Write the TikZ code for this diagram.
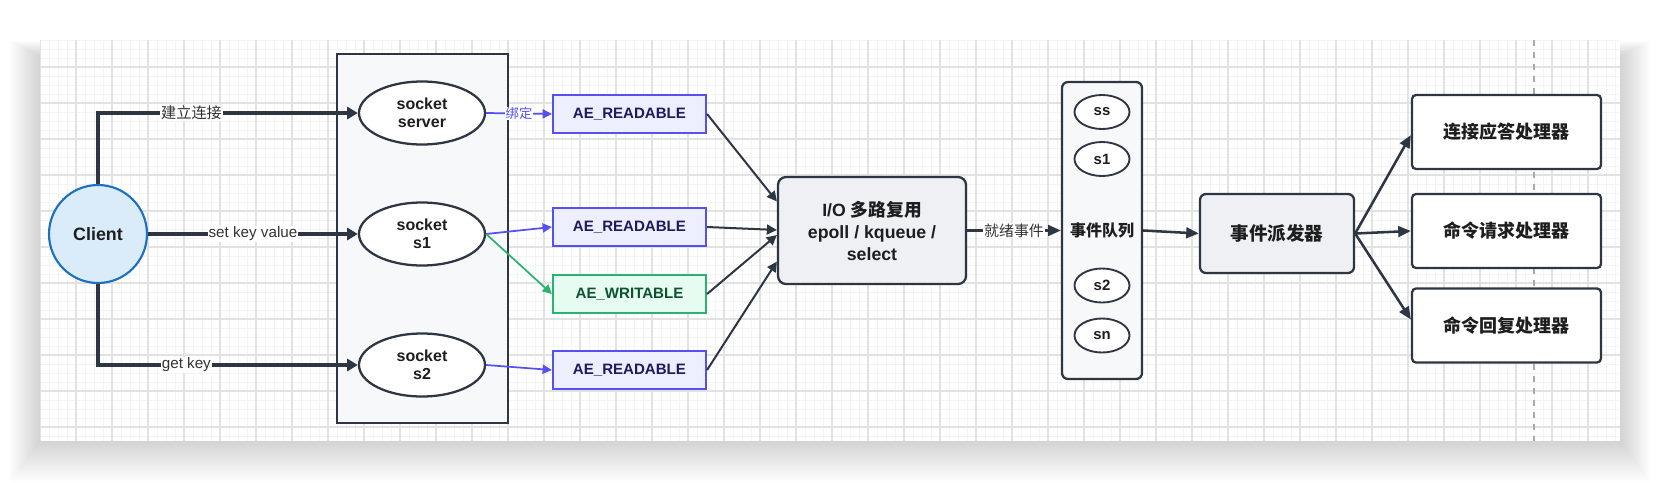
\documentclass[tikz,border=0pt]{standalone}
\usepackage{fontspec}
\setmainfont{Liberation Sans}
\newfontfamily\cjk{Noto Sans CJK SC}
\usetikzlibrary{arrows.meta,shapes.geometric}
\newcommand{\pxu}{*0.75pt}
\definecolor{dark}{HTML}{2E3643}
\definecolor{txt}{HTML}{1E1E1E}
\definecolor{lbltxt}{HTML}{333333}
\definecolor{bluel}{HTML}{5650EE}
\definecolor{aefill}{HTML}{EDEEFE}
\definecolor{aetxt}{HTML}{1E1B5C}
\definecolor{greenl}{HTML}{28B46E}
\definecolor{grfill}{HTML}{E6FCF1}
\definecolor{grtxt}{HTML}{0E5230}
\definecolor{clfill}{HTML}{DAEBFA}
\definecolor{clline}{HTML}{1F70C0}
\definecolor{contfill}{HTML}{F7F8FA}
\definecolor{boxfill}{HTML}{EEF0F4}
\definecolor{majg}{HTML}{E2E2E2}
\definecolor{ming}{HTML}{F4F4F4}
\definecolor{dashg}{HTML}{AAAAAA}
\begin{document}
\begin{tikzpicture}[x=0.75pt,y=-0.75pt,
  minorgrid/.style={ming,line width=0.75pt},
  majorgrid/.style={majg,line width=0.9pt},
  dashline/.style={dashg,line width=1.3pt,dash pattern=on 4.5pt off 4.5pt},
  sock/.style={ellipse,draw=dark,line width=1.7pt,fill=white,minimum width=126\pxu,minimum height=63\pxu,inner sep=0pt,align=center,font=\fontsize{12}{13.7}\selectfont\bfseries,text=txt},
  qell/.style={ellipse,draw=dark,line width=1.4pt,fill=white,minimum width=55\pxu,minimum height=34\pxu,inner sep=0pt,font=\fontsize{11.2}{13}\selectfont\bfseries,text=txt},
  aebox/.style={rectangle,draw=bluel,line width=1.6pt,fill=aefill,minimum width=153\pxu,minimum height=38\pxu,inner sep=0pt,font=\fontsize{11.3}{13}\selectfont\bfseries,text=aetxt},
  grbox/.style={aebox,draw=greenl,fill=grfill,text=grtxt},
  bigbox/.style={rectangle,rounded corners=6\pxu,draw=dark,line width=1.7pt,fill=boxfill,inner sep=0pt,align=center,text=txt},
  hbox/.style={rectangle,rounded corners=4\pxu,draw=dark,line width=1.7pt,fill=white,minimum width=189\pxu,minimum height=74\pxu,inner sep=0pt,font=\fontsize{13.5}{16}\selectfont\bfseries\cjk,text=txt},
  conn/.style={dark,line width=2.3pt,-{Triangle[length=8pt,width=9pt]}},
  darr/.style={dark,line width=1.9pt,-{Triangle[length=9.5pt,width=8pt]}},
  tarr/.style={dark,line width=1.5pt,-{Triangle[length=7.5pt,width=7.5pt]}},
  barr/.style={bluel,line width=1.3pt,-{Triangle[length=7pt,width=6.8pt]}},
  garr/.style={greenl,line width=1.3pt,-{Triangle[length=7pt,width=6.8pt]}},
  lbl/.style={fill=white,inner sep=0.6pt,text=lbltxt,font=\fontsize{11.4}{13}\selectfont}
]
\useasboundingbox (0,0) rectangle (1660,482);
\fill[white] (0,0) rectangle (1660,482);
% soft shadow of the card
\foreach \i in {1,...,44}
  \fill[black,opacity=0.0033] (40-0.7*\i,56-0.35*\i) rectangle (1620+0.7*\i,441+0.95*\i);
\fill[white] (40,40) rectangle (1620,441);
% grid
\begin{scope}
\clip (40,40) rectangle (1620,441);
\foreach \gx in {40,49,...,1620} \draw[minorgrid] (\gx,40) -- (\gx,441);
\foreach \gy in {40,49,...,441} \draw[minorgrid] (40,\gy) -- (1620,\gy);
\foreach \gx in {40,76,...,1620} \draw[majorgrid] (\gx,40) -- (\gx,441);
\foreach \gy in {67,103,...,441} \draw[majorgrid] (40,\gy) -- (1620,\gy);
\end{scope}
\coordinate (dtop) at (1534,40);
\coordinate (dbot) at (1534,441);
\draw[dashline] (dtop) -- (dbot);

% container
\node[rectangle,draw=dark,line width=1.7pt,fill=contfill,minimum width=171\pxu,minimum height=369\pxu] (cont) at (422.5,238.5) {};
% client
\node[circle,draw=clline,line width=1.6pt,fill=clfill,minimum size=98\pxu,inner sep=0pt,font=\fontsize{13.4}{15}\selectfont\bfseries,text=txt] (client) at (98,234) {Client};
% sockets
\node[sock] (sse) at (422,113) {socket\\server};
\node[sock] (s1e) at (422,234) {socket\\s1};
\node[sock] (s2e) at (422,365) {socket\\s2};
% AE boxes
\node[aebox] (ae1) at (629.5,114) {AE\_READABLE};
\node[aebox] (ae2) at (629.5,227) {AE\_READABLE};
\node[grbox] (aew) at (629.5,294) {AE\_WRITABLE};
\node[aebox] (ae3) at (629.5,370) {AE\_READABLE};
% IO box
\node[bigbox,rounded corners=8\pxu,minimum width=188\pxu,minimum height=107\pxu,font=\fontsize{13.3}{16.5}\selectfont\bfseries] (io) at (872,230.5) {I/O {\cjk 多路复用}\\epoll / kqueue /\\select};
% queue
\node[rectangle,rounded corners=6\pxu,draw=dark,line width=1.7pt,fill=contfill,minimum width=80\pxu,minimum height=297\pxu] (queue) at (1102,230.5) {};
\node[font=\fontsize{12}{14}\selectfont\bfseries\cjk,text=txt,inner sep=0pt] (qlbl) at (1102,230) {事件队列};
\node[qell] (qss) at (1102,112) {ss};
\node[qell] (qs1) at (1102,159) {s1};
\node[qell] (qs2) at (1102,285.5) {s2};
\node[qell] (qsn) at (1102,335.5) {sn};
% dispatcher
\node[bigbox,minimum width=154\pxu,minimum height=79\pxu,font=\fontsize{13.9}{16}\selectfont\bfseries\cjk] (disp) at (1277,233.5) {事件派发器};
% handlers
\node[hbox] (h1) at (1506.5,132) {连接应答处理器};
\node[hbox] (h2) at (1506.5,231) {命令请求处理器};
\node[hbox] (h3) at (1506.5,325.5) {命令回复处理器};

% client connectors
\draw[conn] (client.north) |- node[lbl,pos=0.68]{\cjk 建立连接} (sse.west);
\draw[conn] (client.east) -- node[lbl,pos=0.5]{set key value} (s1e.west);
\draw[conn] (client.south) |- node[lbl,pos=0.67]{get key} (s2e.west);
% socket -> AE
\draw[barr] (sse.east) -- node[fill=white,inner sep=0.5pt,text=bluel,font=\fontsize{10}{11}\selectfont\cjk]{绑定} (ae1.west);
\draw[barr] (s1e.east) -- (ae2.west);
\draw[garr] (s1e.east) -- (aew.west);
\draw[barr] (s2e.east) -- (ae3.west);
% AE -> IO
\draw[tarr] (ae1.east) -- ([yshift=21.8pt]io.west);
\draw[tarr] (ae2.east) -- ([yshift=0.4pt]io.west);
\draw[tarr] (aew.east) -- ([yshift=-3.4pt]io.west);
\draw[tarr] (ae3.east) -- ([yshift=-23.3pt]io.west);
% IO -> queue
\draw[darr] (io.east) -- node[fill=white,inner sep=0.5pt,text=lbltxt,font=\fontsize{11.2}{12}\selectfont\cjk]{就绪事件} (queue.west);
% queue -> dispatcher
\draw[darr] (queue.east) -- (disp.west);
% dispatcher -> handlers
\draw[darr] (disp.east) -- ([yshift=-2.3pt]h1.west);
\draw[darr] (disp.east) -- (h2.west);
\draw[darr] (disp.east) -- ([yshift=4.5pt]h3.west);
\end{tikzpicture}
\end{document}
